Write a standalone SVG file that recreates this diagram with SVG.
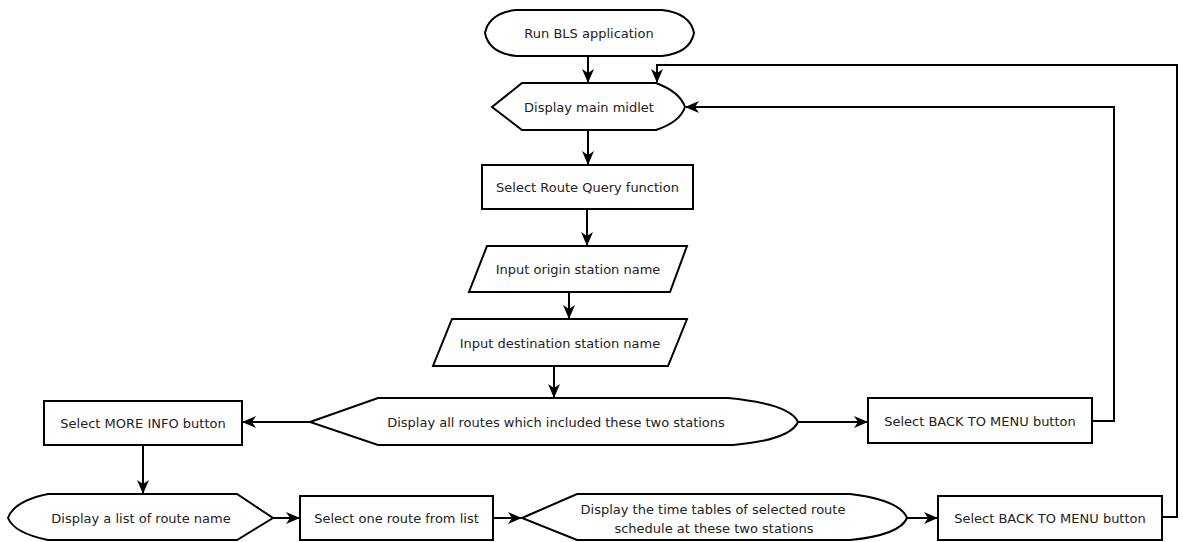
<svg xmlns="http://www.w3.org/2000/svg" width="1183" height="542" viewBox="0 0 1183 542">
  <style>
    .shape { fill: #ffffff; stroke: #000000; stroke-width: 2; stroke-linejoin: miter; }
    .label { font-family: "DejaVu Sans", Verdana, sans-serif; font-size: 13px; fill: #222222; text-anchor: middle; dominant-baseline: central; }
    .link { fill: none; stroke: #000000; stroke-width: 2; }
    .arrow { marker-end: url(#head); }
  </style>
  <defs>
    <marker id="head" viewBox="0 0 14 12" refX="13" refY="6" markerWidth="14" markerHeight="12" markerUnits="userSpaceOnUse" orient="auto">
      <path d="M0,0 L14,6 L0,12 L4,6 Z" fill="#000000"/>
    </marker>
  </defs>
  <rect width="1183" height="542" fill="#ffffff"/>

  <!-- connectors -->
  <g id="connectors">
    <path class="link arrow" d="M588,56 V82"/>
    <path class="link arrow" d="M588,130 V164"/>
    <path class="link arrow" d="M587,209 V245"/>
    <path class="link arrow" d="M569,292 V318"/>
    <path class="link arrow" d="M554,366 V397"/>
    <path class="link arrow" d="M310,422 H243"/>
    <path class="link arrow" d="M798,422 H867"/>
    <path class="link arrow" d="M143,445 V493"/>
    <path class="link arrow" d="M273,518 H299"/>
    <path class="link arrow" d="M493,518 H521"/>
    <path class="link arrow" d="M907,518 H937"/>
    <path class="link arrow" d="M1092,421 H1114 V107 H686"/>
    <path class="link arrow" d="M1162,517 H1177 V65 H657 V82"/>
  </g>

  <!-- start terminator -->
  <g id="run-bls">
    <path class="shape" d="M516,10 H662 Q690,13 694,33 Q690,53 662,56 H516 Q489,53 485,33 Q489,13 516,10 Z"/>
    <text class="label" x="589" y="33">Run BLS application</text>
  </g>

  <g id="display-main-midlet">
    <path class="shape" d="M492,107 L522,83 H656 Q680,92 685,107 Q680,122 656,130 H522 Z"/>
    <text class="label" x="589" y="107">Display main midlet</text>
  </g>

  <g id="select-route-query">
    <rect class="shape" x="482" y="165" width="211" height="44"/>
    <text class="label" x="587.5" y="187">Select Route Query function</text>
  </g>

  <g id="input-origin">
    <path class="shape" d="M487,246 H687 L670,292 H469 Z"/>
    <text class="label" x="578" y="269">Input origin station name</text>
  </g>

  <g id="input-destination">
    <path class="shape" d="M452,319 H687 L668,366 H433 Z"/>
    <text class="label" x="560" y="343">Input destination station name</text>
  </g>

  <g id="display-all-routes">
    <path class="shape" d="M310,422 L378,398 H728 Q790,404 798,422 Q790,440 733,445 H378 Z"/>
    <text class="label" x="556" y="422">Display all routes which included these two stations</text>
  </g>

  <g id="select-more-info">
    <rect class="shape" x="44" y="401" width="198" height="44"/>
    <text class="label" x="143" y="423">Select MORE INFO button</text>
  </g>

  <g id="select-back-menu-1">
    <rect class="shape" x="868" y="398" width="224" height="45"/>
    <text class="label" x="980" y="421">Select BACK TO MENU button</text>
  </g>

  <g id="display-route-list">
    <path class="shape" d="M48,494 H237 L273,518 L237,540 H48 Q14,533 8,518 Q14,501 48,494 Z"/>
    <text class="label" x="141" y="518">Display a list of route name</text>
  </g>

  <g id="select-one-route">
    <rect class="shape" x="300" y="496" width="193" height="44"/>
    <text class="label" x="396.5" y="518">Select one route from list</text>
  </g>

  <g id="display-time-tables">
    <path class="shape" d="M522,518 L577,494 H850 Q900,500 907,518 Q900,535 850,540 H577 Z"/>
    <text class="label" x="713" y="509">Display the time tables of selected route</text>
    <text class="label" x="714" y="528">schedule at these two stations</text>
  </g>

  <g id="select-back-menu-2">
    <rect class="shape" x="938" y="496" width="224" height="44"/>
    <text class="label" x="1050" y="518">Select BACK TO MENU button</text>
  </g>
</svg>
